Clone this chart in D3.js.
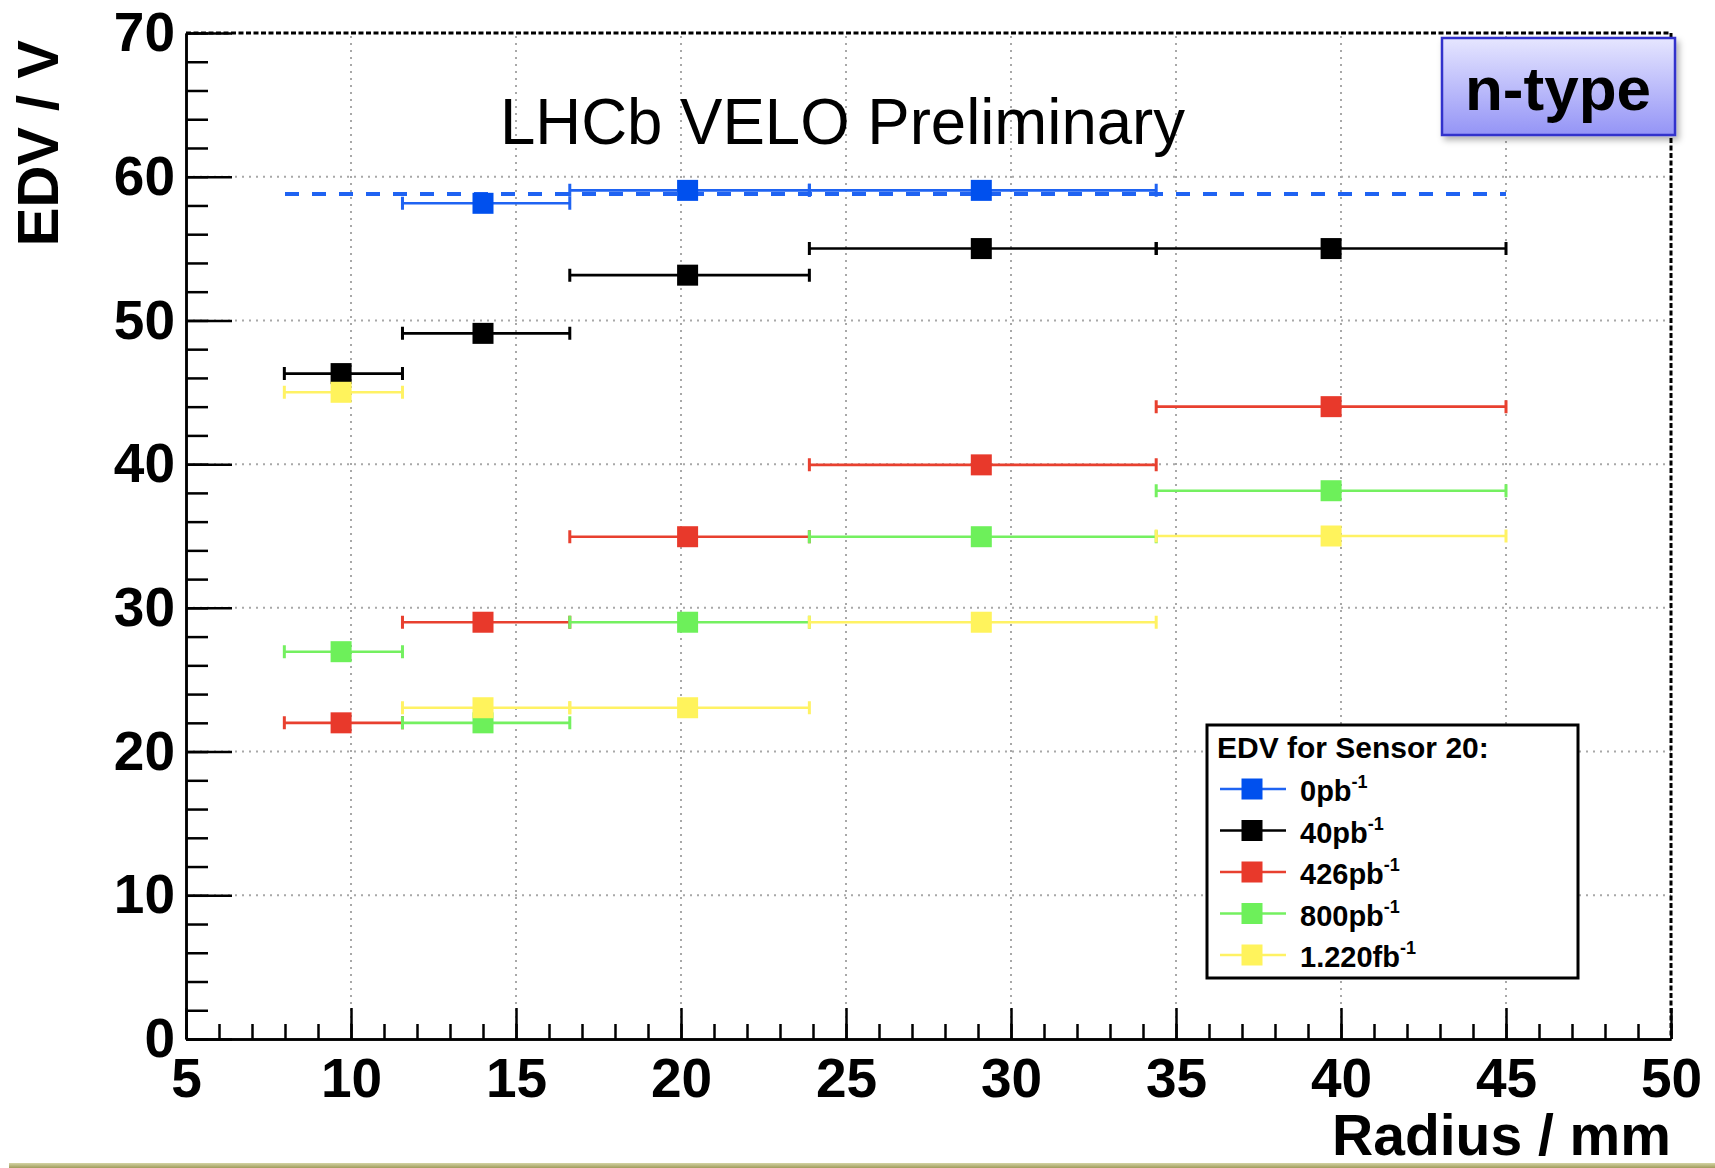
<!DOCTYPE html>
<html>
<head>
<meta charset="utf-8">
<script src="https://cdn.jsdelivr.net/npm/d3@7"></script>
<style>
  html, body { margin: 0; padding: 0; background: #ffffff; }
  svg { display: block; font-family: "Liberation Sans", Arial, Helvetica, sans-serif; }
</style>
</head>
<body>
<svg id="chart" width="1715" height="1168"></svg>
<script>
// Radial bins of sensor 20: measured radius and bin edges (mm)
const radius  = [9.70, 14.00, 20.20, 29.10, 39.70];
const binLow  = [7.98, 11.56, 16.63, 23.89, 34.40];
const binHigh = [11.56, 16.63, 23.89, 34.40, 45.00];

// Effective depletion voltage (V) per integrated luminosity
const edv0pb    = [null, 58.15, 59.05, 59.05, null];
const edv40pb   = [46.3, 49.1, 53.15, 55.0, 55.0];
const edv426pb  = [22.0, 29.0, 34.95, 39.95, 44.0];
const edv800pb  = [26.95, 22.0, 29.0, 34.95, 38.15];
const edv1220pb = [45.0, 23.05, 23.05, 29.0, 35.0];

const seriesLabels = ["0pb", "40pb", "426pb", "800pb", "1.220fb"];
const seriesValues = [edv0pb, edv40pb, edv426pb, edv800pb, edv1220pb];
const markerColors = ["#0050ee", "#000000", "#e8392b", "#6df05a", "#fff35c"];
const lineColors   = ["#1f63f2", "#000000", "#e8402f", "#74f060", "#fff264"];

// Mean unirradiated EDV, drawn as a dashed reference line
const meanEdv0pb = 58.8;
const meanRange = [8.0, 45.0];

const xMajorTicks = [5, 10, 15, 20, 25, 30, 35, 40, 45, 50];
const yMajorTicks = [0, 10, 20, 30, 40, 50, 60, 70];

(function draw() {
  const svg = d3.select("#chart");
  const plotLeft = 186, plotRight = 1671, plotTop = 33, plotBottom = 1039;

  const x = d3.scaleLinear().domain([5, 50]).range([plotLeft, plotRight]);
  const y = d3.scaleLinear().domain([0, 70]).range([plotBottom, plotTop]);
  const defs = svg.append("defs");

  // Grid (dotted)
  const grid = svg.append("g").attr("stroke", "#a8a8a8").attr("stroke-width", 2)
    .attr("stroke-dasharray", "2,5").attr("fill", "none");
  xMajorTicks.filter(v => v > 5 && v < 50).forEach(v => {
    grid.append("line").attr("x1", x(v)).attr("x2", x(v)).attr("y1", plotBottom).attr("y2", plotTop);
  });
  yMajorTicks.filter(v => v > 0 && v < 70).forEach(v => {
    grid.append("line").attr("x1", plotLeft).attr("x2", plotRight).attr("y1", y(v)).attr("y2", y(v));
  });

  // Top and right frame edges
  svg.append("path")
    .attr("d", `M${plotLeft},${plotTop}H${plotRight}V${plotBottom}`)
    .attr("fill", "none").attr("stroke", "#000").attr("stroke-width", 3)
    .attr("stroke-dasharray", "5,2.5");

  // Minor ticks
  const yMinor = d3.axisLeft(y).tickValues(d3.range(0, 71, 2)).tickSize(-22).tickSizeOuter(0).tickFormat("");
  const xMinor = d3.axisBottom(x).tickValues(d3.range(5, 51, 1)).tickSize(-15).tickSizeOuter(0).tickFormat("");
  svg.append("g").attr("transform", `translate(${plotLeft},0)`).call(yMinor);
  svg.append("g").attr("transform", `translate(0,${plotBottom})`).call(xMinor);

  // Major axes
  const yAxis = d3.axisLeft(y).tickValues(yMajorTicks).tickSize(-46).tickSizeOuter(0).tickPadding(11);
  const xAxis = d3.axisBottom(x).tickValues(xMajorTicks).tickSize(-31).tickSizeOuter(0).tickPadding(19);
  const gy = svg.append("g").attr("transform", `translate(${plotLeft},0)`).call(yAxis);
  const gx = svg.append("g").attr("transform", `translate(0,${plotBottom})`).call(xAxis);

  svg.selectAll(".domain, .tick line").attr("stroke", "#000").attr("stroke-width", 2.5);
  [gy, gx].forEach(g => g.selectAll("text")
    .attr("fill", "#000").style("font-size", "55px").style("font-weight", "bold")
    .style("font-family", "'Liberation Sans', Arial, sans-serif"));

  // Axis titles
  svg.append("text")
    .attr("transform", "translate(58,40) rotate(-90)")
    .attr("text-anchor", "end")
    .style("font-size", "58px").style("font-weight", "bold")
    .text("EDV / V");

  svg.append("text")
    .attr("x", plotRight).attr("y", 1155)
    .attr("text-anchor", "end")
    .style("font-size", "57px").style("font-weight", "bold")
    .text("Radius / mm");

  // Mean reference line for the unirradiated sensor
  svg.append("line")
    .attr("x1", x(meanRange[0])).attr("x2", x(meanRange[1]))
    .attr("y1", y(meanEdv0pb)).attr("y2", y(meanEdv0pb))
    .attr("stroke", "#1f63f2").attr("stroke-width", 4)
    .attr("stroke-dasharray", "14,13");

  // Data series with horizontal bin-width error bars
  const markerSize = 21, capHalf = 6.5;
  seriesValues.forEach((vals, s) => {
    const pts = radius.map((r, i) => ({ r, lo: binLow[i], hi: binHigh[i], v: vals[i] })).filter(d => d.v !== null);
    const g = svg.append("g");
    g.selectAll("line.err").data(pts).join("line").attr("class", "err")
      .attr("x1", d => x(d.lo)).attr("x2", d => x(d.hi))
      .attr("y1", d => y(d.v)).attr("y2", d => y(d.v))
      .attr("stroke", lineColors[s]).attr("stroke-width", 2.6);
    g.selectAll("path.cap").data(pts).join("path").attr("class", "cap")
      .attr("d", d => `M${x(d.lo)},${y(d.v) - capHalf}v${2 * capHalf}M${x(d.hi)},${y(d.v) - capHalf}v${2 * capHalf}`)
      .attr("stroke", lineColors[s]).attr("stroke-width", 3).attr("fill", "none");
    g.selectAll("rect").data(pts).join("rect")
      .attr("x", d => x(d.r) - markerSize / 2).attr("y", d => y(d.v) - markerSize / 2)
      .attr("width", markerSize).attr("height", markerSize)
      .attr("fill", markerColors[s]);
  });

  // Title
  svg.append("text")
    .attr("x", 500).attr("y", 144)
    .style("font-size", "64px")
    .attr("textLength", 685).attr("lengthAdjust", "spacingAndGlyphs")
    .text("LHCb VELO Preliminary");

  // "n-type" label box
  const grad = defs.append("linearGradient").attr("id", "boxGrad").attr("x1", 0).attr("y1", 0).attr("x2", 0).attr("y2", 1);
  grad.append("stop").attr("offset", "0%").attr("stop-color", "#e6e6ff");
  grad.append("stop").attr("offset", "100%").attr("stop-color", "#9494f6");
  const shadow = defs.append("filter").attr("id", "boxShadow").attr("x", "-10%").attr("y", "-10%").attr("width", "130%").attr("height", "140%");
  shadow.append("feDropShadow").attr("dx", 3).attr("dy", 4).attr("stdDeviation", 3)
    .attr("flood-color", "#000").attr("flood-opacity", 0.3);

  svg.append("rect")
    .attr("x", 1442).attr("y", 38).attr("width", 233).attr("height", 97)
    .attr("fill", "url(#boxGrad)").attr("stroke", "#3333cc").attr("stroke-width", 2.5)
    .attr("filter", "url(#boxShadow)");
  svg.append("text")
    .attr("x", 1558).attr("y", 110).attr("text-anchor", "middle")
    .style("font-size", "62px").style("font-weight", "bold")
    .text("n-type");

  // Legend
  const lg = svg.append("g");
  lg.append("rect").attr("x", 1207).attr("y", 725).attr("width", 371).attr("height", 253)
    .attr("fill", "#fff").attr("stroke", "#000").attr("stroke-width", 3);
  lg.append("text").attr("x", 1217).attr("y", 758)
    .style("font-size", "30px").style("font-weight", "bold")
    .text("EDV for Sensor 20:");
  seriesLabels.forEach((lab, s) => {
    const cy = 789 + s * 41.5;
    lg.append("line").attr("x1", 1220).attr("x2", 1286).attr("y1", cy).attr("y2", cy)
      .attr("stroke", lineColors[s]).attr("stroke-width", 2.5);
    lg.append("rect").attr("x", 1252 - markerSize / 2).attr("y", cy - markerSize / 2)
      .attr("width", markerSize).attr("height", markerSize).attr("fill", markerColors[s]);
    const t = lg.append("text").attr("x", 1300).attr("y", cy + 12)
      .style("font-size", "29px").style("font-weight", "bold");
    t.append("tspan").text(lab);
    t.append("tspan").attr("dy", -13).style("font-size", "18px").text("-1");
  });

  // Page rule along the bottom edge
  const ruleGrad = defs.append("linearGradient").attr("id", "ruleGrad").attr("x1", 0).attr("y1", 0).attr("x2", 0).attr("y2", 1);
  ruleGrad.append("stop").attr("offset", "0%").attr("stop-color", "#d4d4a4");
  ruleGrad.append("stop").attr("offset", "100%").attr("stop-color", "#a09c5c");
  svg.append("rect").attr("x", 9).attr("y", 1163).attr("width", 1706).attr("height", 5)
    .attr("fill", "url(#ruleGrad)");
})();
</script>
</body>
</html>
